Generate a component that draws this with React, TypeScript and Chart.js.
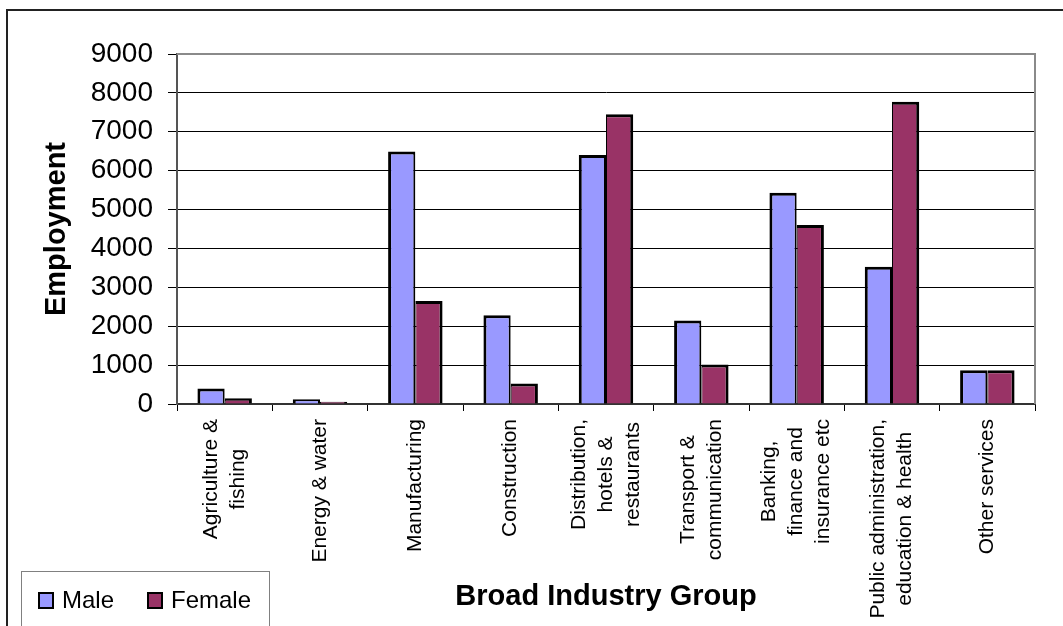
import React, { useEffect, useRef } from "react";
import { Chart, registerables } from "chart.js";

Chart.register(...registerables);

const FONT = "'Liberation Sans', Arial, Helvetica, sans-serif";

const categories: string[][] = [
  ["Agriculture &", "fishing"],
  ["Energy & water"],
  ["Manufacturing"],
  ["Construction"],
  ["Distribution,", "hotels &", "restaurants"],
  ["Transport &", "communication"],
  ["Banking,", "finance and", "insurance etc"],
  ["Public administration,", "education & health"],
  ["Other services"],
];

const maleValues = [400, 125, 6490, 2280, 6400, 2150, 5430, 3530, 870];
const femaleValues = [150, 60, 2650, 530, 7450, 1015, 4600, 7775, 865];

const seriesNames = ["Male", "Female"];
const seriesColors = ["#9999FF", "#993366"];

const yMin = 0;
const yMax = 9000;
const yStep = 1000;

const xTitle = "Broad Industry Group";
const yTitle = "Employment";

const decorPlugin = {
  id: "decor",
  beforeDraw(chart: any) {
    const ctx = chart.ctx;
    ctx.save();
    ctx.fillStyle = "#ffffff";
    ctx.fillRect(0, 0, chart.width, chart.height);
    ctx.restore();
  },
  afterDraw(chart: any) {
    const ctx = chart.ctx;
    const a = chart.chartArea;
    const xScale = chart.scales.x;

    // plot area top & right border
    ctx.save();
    ctx.strokeStyle = "#8a8a8a";
    ctx.lineWidth = 2;
    ctx.beginPath();
    ctx.moveTo(a.left, a.top);
    ctx.lineTo(a.right, a.top);
    ctx.lineTo(a.right, a.bottom);
    ctx.stroke();
    ctx.restore();

    // category labels (rotated, lines centred)
    ctx.save();
    ctx.font = `21px ${FONT}`;
    ctx.fillStyle = "#000000";
    const lineGap = 27;
    categories.forEach((lines, i) => {
      const x = xScale.getPixelForValue(i);
      let maxW = 0;
      lines.forEach((l) => {
        maxW = Math.max(maxW, ctx.measureText(l).width);
      });
      const yc = 419 + maxW / 2;
      const n = lines.length;
      lines.forEach((l, j) => {
        ctx.save();
        ctx.translate(x + (j - (n - 1) / 2) * lineGap, yc);
        ctx.rotate(-Math.PI / 2);
        ctx.textAlign = "center";
        ctx.textBaseline = "middle";
        ctx.fillText(l, 0, 0);
        ctx.restore();
      });
    });
    ctx.restore();

    // legend
    ctx.save();
    ctx.strokeStyle = "#808080";
    ctx.lineWidth = 1;
    ctx.strokeRect(21.5, 571.5, 248, 120);
    const items = [
      { sx: 38, tx: 62 },
      { sx: 147, tx: 171 },
    ];
    ctx.font = `24px ${FONT}`;
    ctx.textBaseline = "middle";
    ctx.textAlign = "left";
    chart.data.datasets.forEach((ds: any, i: number) => {
      const it = items[i];
      ctx.fillStyle = ds.backgroundColor;
      ctx.fillRect(it.sx, 592, 16, 17);
      ctx.strokeStyle = "#000000";
      ctx.lineWidth = 2;
      ctx.strokeRect(it.sx + 1, 593, 14, 15);
      ctx.fillStyle = "#000000";
      ctx.fillText(ds.label, it.tx, 601);
    });
    ctx.restore();

    // outer chart border
    ctx.save();
    ctx.strokeStyle = "#222222";
    ctx.lineWidth = 2;
    ctx.strokeRect(7, 10, 1200, 800);
    ctx.restore();
  },
};

export default function App() {
  const ref = useRef<HTMLCanvasElement | null>(null);

  useEffect(() => {
    if (!ref.current) return;
    const chart = new Chart(ref.current, {
      type: "bar",
      data: {
        labels: categories.map((c) => c.join(" ")),
        datasets: [
          {
            label: seriesNames[0],
            data: maleValues,
            backgroundColor: seriesColors[0],
            borderColor: "#000000",
            borderWidth: { top: 3, left: 3, right: 2, bottom: 0 },
            categoryPercentage: 2 / 3.5,
            barPercentage: 1,
          },
          {
            label: seriesNames[1],
            data: femaleValues,
            backgroundColor: seriesColors[1],
            borderColor: "#000000",
            borderWidth: { top: 3, left: 1, right: 3, bottom: 0 },
            categoryPercentage: 2 / 3.5,
            barPercentage: 1,
          },
        ],
      },
      options: {
        responsive: false,
        maintainAspectRatio: false,
        devicePixelRatio: 1,
        animation: false,
        layout: { padding: { left: 0, top: 54, right: 28, bottom: 0 } },
        plugins: {
          legend: { display: false },
          tooltip: { enabled: false },
          title: { display: false },
        },
        scales: {
          x: {
            grid: {
              display: true,
              drawOnChartArea: false,
              drawTicks: true,
              tickLength: 7,
              color: "#000000",
              offset: true,
            },
            border: { display: true, color: "#333333", width: 2 },
            ticks: { display: false },
            title: {
              display: true,
              text: xTitle,
              color: "#000000",
              font: { family: FONT, size: 29, weight: "bold" },
              padding: { top: 0, bottom: 12 },
            },
            afterFit: (s: any) => {
              s.height = 222;
            },
          },
          y: {
            min: yMin,
            max: yMax,
            ticks: {
              stepSize: yStep,
              color: "#000000",
              padding: 15,
              font: { family: FONT, size: 28 },
              callback: (v: any) => String(v),
            },
            grid: { color: "#000000", lineWidth: 1, tickLength: 9 },
            border: { display: true, color: "#555555", width: 2 },
            title: {
              display: true,
              text: yTitle,
              color: "#000000",
              font: { family: FONT, size: 29, weight: "bold" },
              padding: { top: 40, bottom: 0 },
            },
            afterFit: (s: any) => {
              s.width = 177;
            },
          },
        },
      },
      plugins: [decorPlugin],
    });
    return () => chart.destroy();
  }, []);

  return (
    <div style={{ position: "absolute", left: 0, top: 0, width: 1063, height: 626, overflow: "hidden" }}>
      <canvas ref={ref} width={1063} height={626} style={{ display: "block" }} />
    </div>
  );
}
